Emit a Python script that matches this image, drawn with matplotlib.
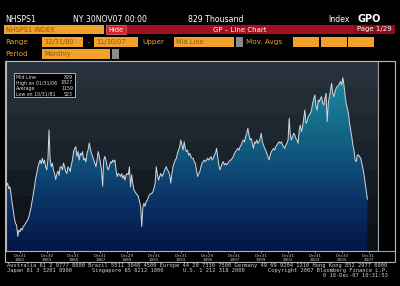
import numpy as np
import matplotlib
matplotlib.use("Agg")
import matplotlib.pyplot as plt
from matplotlib.patches import Rectangle
from matplotlib.colors import LinearSegmentedColormap

# NHSPS1 monthly values (thousands), Dec 1980 - Nov 2007
y1980 = [945]
y1981 = [960, 915, 930, 870, 795, 740, 670, 630, 615, 523, 575, 560]
y1982 = [590, 575, 605, 615, 630, 645, 660, 685, 725, 765, 820, 875]
y1983 = [930, 1000, 1040, 1090, 1120, 1150, 1120, 1165, 1125, 1150, 1095, 1070]
y1984 = [1150, 1397, 1160, 1095, 1125, 1070, 1040, 990, 1035, 1060, 1025, 1095]
y1985 = [1095, 1070, 1125, 1095, 1055, 1040, 1095, 1080, 1055, 1110, 1150, 1220]
y1986 = [1245, 1260, 1180, 1220, 1150, 1205, 1190, 1220, 1150, 1165, 1135, 1205]
y1987 = [1235, 1290, 1245, 1205, 1180, 1150, 1125, 1095, 1150, 1220, 1180, 1125]
y1988 = [1070, 935, 1150, 1180, 1150, 1095, 1070, 1095, 1135, 1125, 1150, 1135]
y1989 = [1150, 1070, 1015, 1040, 1030, 1015, 1040, 1000, 1025, 985, 1030, 1040]
y1990 = [1030, 1095, 930, 1030, 960, 905, 890, 875, 863, 850, 810, 770]
y1991 = [605, 765, 795, 770, 810, 820, 850, 865, 875, 875, 890, 918]
y1992 = [960, 1095, 1030, 985, 1015, 1040, 1015, 1030, 1055, 1080, 1095, 1070]
y1993 = [1055, 1030, 960, 1040, 1095, 1125, 1150, 1165, 1205, 1232, 1260, 1315]
y1994 = [1275, 1232, 1300, 1245, 1220, 1232, 1190, 1205, 1180, 1165, 1165, 1137]
y1995 = [1123, 1070, 1015, 1040, 1055, 1095, 1125, 1137, 1150, 1137, 1150, 1165]
y1996 = [1150, 1165, 1178, 1150, 1165, 1192, 1205, 1246, 1178, 1110, 1070, 1095]
y1997 = [1123, 1137, 1110, 1123, 1110, 1123, 1137, 1150, 1150, 1165, 1178, 1205]
y1998 = [1220, 1232, 1246, 1232, 1260, 1274, 1300, 1315, 1300, 1342, 1370, 1411]
y1999 = [1356, 1315, 1328, 1288, 1246, 1300, 1288, 1315, 1288, 1300, 1328, 1370]
y2000 = [1300, 1274, 1246, 1232, 1205, 1178, 1150, 1192, 1220, 1232, 1246, 1232]
y2001 = [1260, 1274, 1288, 1300, 1288, 1300, 1274, 1260, 1246, 1274, 1288, 1315]
y2002 = [1493, 1356, 1315, 1342, 1370, 1356, 1328, 1315, 1288, 1397, 1438, 1384]
y2003 = [1424, 1493, 1561, 1452, 1466, 1507, 1520, 1534, 1561, 1616, 1657, 1685]
y2004 = [1589, 1561, 1644, 1630, 1657, 1671, 1616, 1603, 1657, 1699, 1466, 1616]
y2005 = [1671, 1726, 1781, 1699, 1671, 1712, 1740, 1754, 1760, 1781, 1795, 1767]
y2006 = [1827, 1767, 1685, 1616, 1575, 1534, 1452, 1397, 1342, 1274, 1232, 1150]
y2007 = [1137, 1192, 1192, 1178, 1165, 1123, 1082, 1028, 960, 890, 829]

tick_years = list(range(1981, 2008, 2))
tick_days = [31, 30, 31, 31, 29, 31, 31, 29, 31, 31, 31, 31, 30, 31]

legend_labels = ["Mid Line", "High on 01/31/06", "Average", "Low on 10/31/81"]
legend_values = ["829", "1827", "1159", "523"]

yticks = [600, 800, 1000, 1200, 1400, 1600, 1800]

values = np.array(y1980 + y1981 + y1982 + y1983 + y1984 + y1985 + y1986 + y1987
                  + y1988 + y1989 + y1990 + y1991 + y1992 + y1993 + y1994 + y1995
                  + y1996 + y1997 + y1998 + y1999 + y2000 + y2001 + y2002 + y2003
                  + y2004 + y2005 + y2006 + y2007, dtype=float)
x = np.arange(len(values))

W, H = 400, 286
fig = plt.figure(figsize=(4, 2.86), dpi=100, facecolor="black")


def fx(px):
    return px / W


def fy(py):
    return 1 - py / H


def box(x0, y0, x1, y1, fc, ec=None, lw=0.0):
    fig.patches.append(Rectangle((fx(x0), fy(y1)), fx(x1 - x0), (y1 - y0) / H,
                                 transform=fig.transFigure, facecolor=fc,
                                 edgecolor=ec if ec else fc, linewidth=lw))


def txt(px, py, s, size=5.0, color="white", ha="left", **kw):
    fig.text(fx(px), fy(py), s, fontsize=size, color=color, ha=ha, va="center", **kw)


ORANGE = "#f2a12a"
DARK = "#8a5a14"
LABEL = "#eea032"

# header line
txt(5, 19, "NHSPS1", 5.6)
txt(73, 19, "NY 30NOV07 00:00", 5.6)
txt(188, 19, "829 Thousand", 5.6)
txt(328, 19, "Index", 5.6)
txt(357, 19, "GPO", 7.0, fontweight="bold")

# row 2
box(4, 25, 104, 34, ORANGE)
txt(6, 29.5, "NHSPS1 INDEX", 4.8, DARK)
box(106, 25, 126, 34, "#d42330", "#e8707a", 0.5)
txt(116, 29.5, "Hide", 4.8, "white", ha="center")
box(127, 25, 395, 34, "#a3101f")
box(354, 25, 395, 34, "#8e0c1a")
txt(213, 29.5, "GP \u2013 Line Chart", 5.0)
txt(357, 29.5, "Page 1/29", 5.0)

# row 3
txt(5, 42, "Range", 5.2, LABEL)
box(42, 37, 83, 47, ORANGE)
txt(44, 42, "12/31/80", 4.8, DARK)
txt(88, 42, "-", 5.2, LABEL)
box(94, 37, 138, 47, ORANGE)
txt(96, 42, "11/30/07", 4.8, DARK)
txt(142, 42, "Upper", 5.2, LABEL)
box(174, 37, 234, 47, ORANGE)
txt(176, 42, "Mid Line", 4.8, DARK)
box(236, 37, 243, 47, "#8c8c8c")
txt(246, 42, "Mov. Avgs", 5.2, LABEL)
for bx in [(293, 319), (321, 347), (348, 374)]:
    box(bx[0], 37, bx[1], 47, ORANGE)

# row 4
txt(5, 54, "Period", 5.2, LABEL)
box(42, 49, 110, 59, ORANGE)
txt(44, 54, "Monthly", 4.8, DARK)
box(112, 49, 119, 59, "#8c8c8c")

# chart panel
box(378, 61, 395, 251, "black", "#a0a0a0", 0.8)
box(5, 61, 395, 262, "none", "#b4b4b4", 0.8)

ymin, ymax = 403, 1964
xmin, xmax = -0.5, 332.5
ax = fig.add_axes([fx(6), fy(251), fx(372), 190 / H])
ax.set_facecolor("#11171d")

bg_cmap = LinearSegmentedColormap.from_list(
    "bg", ["#0c1115", "#12181e", "#1a232b", "#1f2a33", "#26313b"])
bg = np.linspace(0, 1, 7).reshape(-1, 1)
ax.imshow(bg, extent=[xmin, xmax, ymin, ymax], origin="lower", aspect="auto",
          cmap=bg_cmap, interpolation="nearest", zorder=0)

fill_cmap = LinearSegmentedColormap.from_list(
    "fill", ["#061646", "#0a2b5f", "#0e4775", "#136383", "#197b97", "#1f8aa6"])
grad = np.linspace(0, 1, 40).reshape(-1, 1)
img = ax.imshow(grad, extent=[xmin, xmax, ymin, ymax], origin="lower", aspect="auto",
                cmap=fill_cmap, interpolation="nearest", zorder=1)
poly = ax.fill_between(x, values, ymin, facecolor="none", edgecolor="none")
img.set_clip_path(poly.get_paths()[0], transform=ax.transData)

ax.plot(x, values, color="#d4d8dc", linewidth=0.7, zorder=3)

ax.set_xlim(xmin, xmax)
ax.set_ylim(ymin, ymax)

tick_pos = [12 + 24 * i for i in range(len(tick_years))]
tick_lab = [f"Dec{d}\n{yr}" for d, yr in zip(tick_days, tick_years)]
ax.set_xticks(tick_pos)
ax.set_xticklabels(tick_lab)
ax.tick_params(axis="x", colors="#c8c8c8", labelsize=3.0, length=1.5, width=0.5,
               pad=0.8)
for lab in ax.get_xticklabels():
    lab.set_linespacing(1.0)

ax.yaxis.tick_right()
ax.set_yticks(yticks)
ax.set_yticklabels([str(v) for v in yticks])
ax.tick_params(axis="y", colors="#c8c8c8", labelsize=3.4, length=1.8, width=0.5,
               pad=0.6)

for s in ax.spines.values():
    s.set_color("#b4b4b4")
    s.set_linewidth(0.8)

# stats box
box(14, 73, 75, 97, "black", "#c8c8c8", 0.6)
for i, (lab, val) in enumerate(zip(legend_labels, legend_values)):
    yy = 77.5 + i * 5.5
    txt(16, yy, lab, 3.4, "#e0e0e0")
    txt(73, yy, val, 3.4, "#e0e0e0", ha="right")

# footer
mono = "DejaVu Sans Mono"
txt(7, 265.5, "Australia 61 2 9777 8600 Brazil 5511 3048 4500 Europe 44 20 7330 7500 "
    "Germany 49 69 9204 1210 Hong Kong 852 2977 6000", 3.9, "#d0d0d0", family=mono)
txt(7, 270.5, "Japan 81 3 3201 8900", 3.9, "#d0d0d0", family=mono)
txt(92, 270.5, "Singapore 65 6212 1000", 3.9, "#d0d0d0", family=mono)
txt(183, 270.5, "U.S. 1 212 318 2000", 3.9, "#d0d0d0", family=mono)
txt(388, 270.5, "Copyright 2007 Bloomberg Finance L.P.", 3.9, "#d0d0d0", ha="right",
    family=mono)
txt(388, 275.5, "0 18-Dec-07 10:31:53", 3.9, "#d0d0d0", ha="right", family=mono)

fig.savefig("out.png", dpi=100, facecolor="black")
